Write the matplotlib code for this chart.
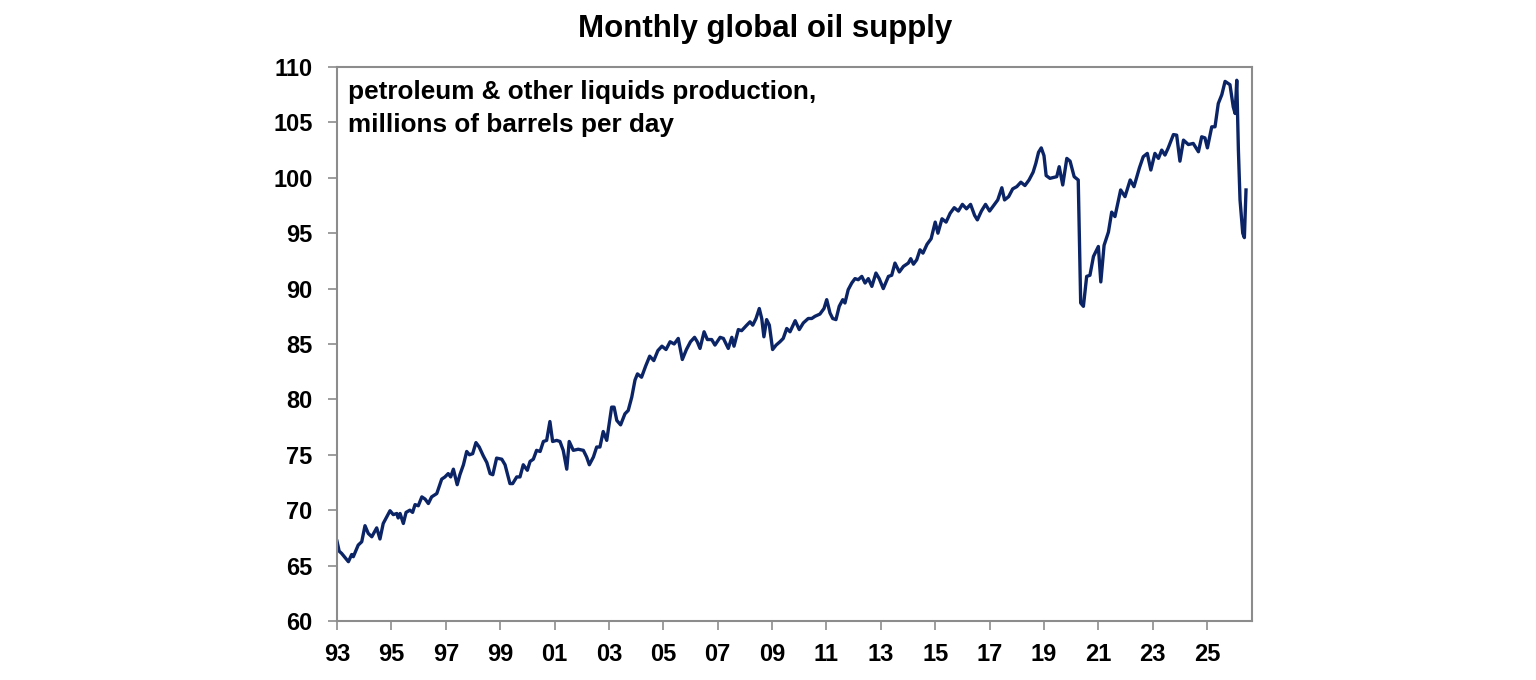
import matplotlib
matplotlib.use("Agg")
import matplotlib.pyplot as plt

plt.rcParams['font.family'] = ['Liberation Sans', 'DejaVu Sans']
plt.rcParams['font.weight'] = 'bold'

# dates as decimal years, values in millions of barrels per day
years = [
    1993.00, 1993.08, 1993.17, 1993.42, 1993.54, 1993.60, 1993.78, 1993.91,
    1994.03, 1994.15, 1994.28, 1994.46, 1994.58, 1994.70, 1994.83, 1994.95,
    1995.07, 1995.20, 1995.25, 1995.32, 1995.44, 1995.54, 1995.68, 1995.78, 1995.87, 1995.99,
    1996.12, 1996.24, 1996.36, 1996.48, 1996.67, 1996.85, 1996.97,
    1997.09, 1997.18, 1997.28, 1997.42, 1997.52, 1997.65, 1997.77, 1997.87, 1997.99,
    1998.11, 1998.23, 1998.38, 1998.51, 1998.63, 1998.73, 1998.87,
    1999.06, 1999.18, 1999.36, 1999.46, 1999.61, 1999.73, 1999.85,
    2000.00, 2000.10, 2000.22, 2000.34, 2000.47, 2000.59, 2000.71, 2000.83, 2000.93,
    2001.08, 2001.20, 2001.32, 2001.45, 2001.54, 2001.69, 2001.87,
    2002.06, 2002.18, 2002.28, 2002.43, 2002.55, 2002.67, 2002.79, 2002.92,
    2003.10, 2003.19, 2003.29, 2003.43, 2003.59, 2003.71, 2003.84, 2003.96,
    2004.05, 2004.20, 2004.35, 2004.50, 2004.65, 2004.80, 2004.95,
    2005.10, 2005.25, 2005.40, 2005.55, 2005.70, 2005.85,
    2006.00, 2006.15, 2006.25, 2006.35, 2006.50, 2006.62, 2006.78, 2006.90,
    2007.09, 2007.21, 2007.39, 2007.52, 2007.60, 2007.76, 2007.88,
    2008.07, 2008.19, 2008.29, 2008.41, 2008.53, 2008.62, 2008.70, 2008.80, 2008.90,
    2009.02, 2009.15, 2009.29, 2009.41, 2009.54, 2009.66, 2009.85,
    2010.00, 2010.15, 2010.33, 2010.46, 2010.58, 2010.76, 2010.91,
    2011.01, 2011.13, 2011.23, 2011.35, 2011.47, 2011.60, 2011.68, 2011.80, 2011.93,
    2012.05, 2012.17, 2012.30, 2012.42, 2012.54, 2012.67, 2012.82, 2012.94,
    2013.09, 2013.28, 2013.40, 2013.52, 2013.68, 2013.83,
    2014.01, 2014.10, 2014.20, 2014.32, 2014.44, 2014.55, 2014.70, 2014.85,
    2015.00, 2015.10, 2015.25, 2015.40, 2015.55, 2015.70, 2015.85,
    2016.00, 2016.15, 2016.30, 2016.45, 2016.55, 2016.70, 2016.85,
    2017.00, 2017.15, 2017.30, 2017.45, 2017.55, 2017.70, 2017.85,
    2018.00, 2018.15, 2018.30, 2018.45, 2018.60, 2018.70, 2018.80, 2018.90,
    2019.00, 2019.08, 2019.22, 2019.47, 2019.56, 2019.69, 2019.84, 2019.96,
    2020.11, 2020.26, 2020.35, 2020.45, 2020.57, 2020.69, 2020.82,
    2021.00, 2021.09, 2021.21, 2021.37, 2021.49, 2021.61, 2021.82, 2021.98,
    2022.17, 2022.31, 2022.51, 2022.65, 2022.80, 2022.93,
    2023.08, 2023.21, 2023.33, 2023.45, 2023.57, 2023.76, 2023.88,
    2024.00, 2024.13, 2024.31, 2024.49, 2024.68, 2024.80, 2024.92,
    2025.01, 2025.17, 2025.29, 2025.41, 2025.54, 2025.66, 2025.84, 2025.96,
    2026.03, 2026.09, 2026.15, 2026.21, 2026.31, 2026.37, 2026.43,
]
supply = [
    67.2, 66.3, 66.1, 65.35, 66.0, 65.8, 66.85, 67.15,
    68.6, 67.9, 67.6, 68.4, 67.4, 68.8, 69.4, 69.95,
    69.6, 69.7, 69.3, 69.7, 68.8, 69.8, 70.0, 69.8, 70.5, 70.4,
    71.2, 71.0, 70.6, 71.2, 71.5, 72.8, 73.0,
    73.3, 73.0, 73.7, 72.3, 73.2, 74.1, 75.3, 75.0, 75.1,
    76.1, 75.7, 74.9, 74.3, 73.3, 73.2, 74.7,
    74.6, 74.1, 72.4, 72.4, 73.0, 73.0, 74.1,
    73.6, 74.4, 74.6, 75.4, 75.3, 76.2, 76.3, 78.0, 76.2,
    76.3, 76.2, 75.4, 73.7, 76.2, 75.4, 75.5,
    75.4, 74.8, 74.1, 74.8, 75.7, 75.7, 77.1, 76.3,
    79.3, 79.3, 78.1, 77.7, 78.7, 79.0, 80.2, 81.75,
    82.3, 82.0, 83.0, 83.9, 83.5, 84.4, 84.8,
    84.5, 85.2, 85.0, 85.5, 83.6, 84.5,
    85.2, 85.6, 85.2, 84.6, 86.1, 85.4, 85.4, 84.9,
    85.6, 85.5, 84.6, 85.6, 84.8, 86.3, 86.2,
    86.7, 87.0, 86.7, 87.3, 88.2, 87.3, 85.65, 87.2, 86.7,
    84.5, 84.9, 85.2, 85.5, 86.4, 86.1, 87.1,
    86.3, 86.9, 87.3, 87.3, 87.5, 87.7, 88.2,
    89.0, 87.8, 87.3, 87.2, 88.4, 89.0, 88.7, 89.9, 90.5,
    90.9, 90.8, 91.1, 90.5, 90.9, 90.2, 91.4, 90.9,
    90.0, 91.1, 91.2, 92.3, 91.5, 92.0,
    92.3, 92.7, 92.2, 92.6, 93.5, 93.2, 94.0, 94.5,
    96.0, 95.0, 96.3, 96.0, 96.8, 97.3, 97.0,
    97.6, 97.2, 97.6, 96.6, 96.2, 97.0, 97.6,
    97.0, 97.5, 98.0, 99.1, 98.0, 98.3, 99.0,
    99.2, 99.6, 99.3, 99.8, 100.5, 101.3, 102.3, 102.7,
    102.0, 100.2, 99.95, 100.1, 101.0, 99.35, 101.75, 101.5,
    100.1, 99.8, 88.7, 88.4, 91.1, 91.2, 92.9,
    93.8, 90.6, 93.9, 95.1, 96.9, 96.5, 98.9, 98.3,
    99.8, 99.2, 100.9, 101.9, 102.2, 100.7,
    102.2, 101.75, 102.5, 102.05, 102.7, 103.9, 103.85,
    101.5, 103.4, 103.0, 103.1, 102.35, 103.7, 103.6,
    102.7, 104.6, 104.6, 106.7, 107.5, 108.7, 108.4, 106.4,
    105.8, 108.8, 102.5, 98.0, 95.0, 94.6, 98.9,
]

tick_years = list(range(1993, 2026, 2))
tick_labels = [str(y)[2:] for y in tick_years]
y_ticks = list(range(60, 111, 5))

grey = '#8c8c8c'
navy = '#0b2466'

fig = plt.figure(figsize=(15.36, 6.8), dpi=100)
ax = fig.add_axes([0.2194, 0.0868, 0.5957, 0.8147])

ax.plot(years, supply, color=navy, linewidth=2.4, solid_joinstyle='round')

ax.set_xlim(1993.0, 2026.65)
ax.set_ylim(60, 110)
ax.set_xticks(tick_years)
ax.set_xticklabels(tick_labels)
ax.set_yticks(y_ticks)

for s in ax.spines.values():
    s.set_color(grey)
    s.set_linewidth(1.5)

ax.tick_params(axis='both', direction='out', length=6.5, width=1.2, color=grey,
               labelsize=17, labelcolor='black')
ax.tick_params(axis='y', pad=11)
ax.tick_params(axis='x', pad=9)
for lbl in ax.get_xticklabels() + ax.get_yticklabels():
    lbl.set_fontweight('bold')

# va='baseline' pins the last line's baseline here
ax.text(0.012, 0.8832, 'petroleum & other liquids production,\nmillions of barrels per day',
        transform=ax.transAxes, fontsize=18.8, fontweight='bold', va='baseline',
        ha='left', linespacing=1.44)

fig.text(0.498, 0.9456, 'Monthly global oil supply', fontsize=22.5, fontweight='bold',
         ha='center', va='baseline')

fig.savefig('out.png', dpi=100)
